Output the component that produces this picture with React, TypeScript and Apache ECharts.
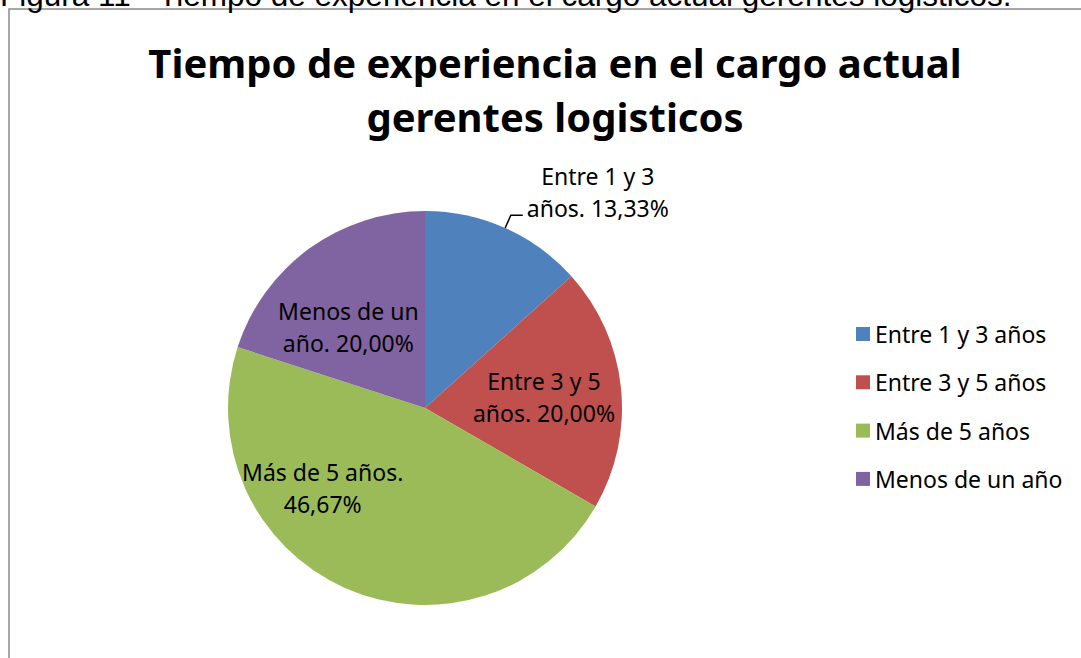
import React, { useEffect, useRef } from "react";
import * as echarts from "echarts";

const caption = "Figura 11 - Tiempo de experiencia en el cargo actual gerentes logisticos.";
const titleText = "Tiempo de experiencia en el cargo actual\ngerentes logisticos";
const categories = ["Entre 1 y 3 años", "Entre 3 y 5 años", "Más de 5 años", "Menos de un año"];
const counts = [2, 3, 7, 3];
const labelTexts = [
  "Entre 1 y 3\naños. 13,33%",
  "Entre 3 y 5\naños. 20,00%",
  "Más de 5 años.\n46,67%",
  "Menos de un\naño. 20,00%",
];
const colors = ["#4F81BD", "#C0504D", "#9BBB59", "#8064A2"];

// label nudges relative to library default positions
const labelShift = [
  { dx: 70, dy: -23 },
  { dx: 18, dy: 0 },
  { dx: -61, dy: -13 },
  { dx: -17, dy: 1 },
];

export default function App() {
  const ref = useRef<HTMLDivElement>(null);
  useEffect(() => {
    if (!ref.current) return;
    const chart = echarts.init(ref.current, null, { renderer: "svg" });
    const font = "'Noto Sans', sans-serif";
    chart.setOption({
      animation: false,
      backgroundColor: "#ffffff",
      title: {
        text: titleText,
        left: 550,
        top: 30,
        textAlign: "center",
        textStyle: {
          fontFamily: font,
          fontWeight: "bold",
          fontSize: 40,
          lineHeight: 54,
          color: "#000",
        },
      },
      legend: {
        orient: "vertical",
        left: 851,
        top: 317,
        itemWidth: 14,
        itemHeight: 14,
        itemGap: 24.3,
        icon: "rect",
        data: categories,
        textStyle: { fontFamily: font, fontSize: 23, lineHeight: 24, color: "#000" },
      },
      graphic: [
        {
          type: "rect",
          shape: { x: 9, y: 9, width: 1200, height: 800 },
          style: { fill: "none", stroke: "#8a8a8a", lineWidth: 1.5 },
          z: -1,
        },
        {
          type: "text",
          x: 0,
          y: 11,
          style: {
            text: caption,
            fontFamily: "'Liberation Sans', Arial, sans-serif",
            fontSize: 31.5,
            fill: "#000",
            verticalAlign: "bottom",
            align: "left",
          },
        },
      ],
      series: [
        {
          type: "pie",
          center: [425, 408],
          radius: [0, 197],
          startAngle: 90,
          clockwise: true,
          silent: true,
          avoidLabelOverlap: false,
          data: categories.map((name, i) => ({
            name,
            value: counts[i],
            itemStyle: { color: colors[i] },
            label:
              i === 0
                ? { position: "outside", formatter: labelTexts[i] }
                : { position: "inside", formatter: labelTexts[i] },
            labelLine: i === 0 ? { show: true, length: 14, length2: 12 } : { show: false },
          })),
          label: {
            fontFamily: font,
            fontSize: 23,
            lineHeight: 32,
            color: "#000",
            align: "center",
          },
          labelLine: {
            lineStyle: { color: "#000", width: 1.5 },
          },
          labelLayout: (params: any) => {
            const s = labelShift[params.dataIndex];
            const res: any = { dx: s.dx, dy: s.dy, align: "center" };
            if (params.labelLinePoints) res.labelLinePoints = params.labelLinePoints;
            return res;
          },
        },
      ],
    });
    return () => chart.dispose();
  }, []);
  return (
    <div
      ref={ref}
      style={{ position: "fixed", left: 0, top: 0, width: 1081, height: 658 }}
    />
  );
}
